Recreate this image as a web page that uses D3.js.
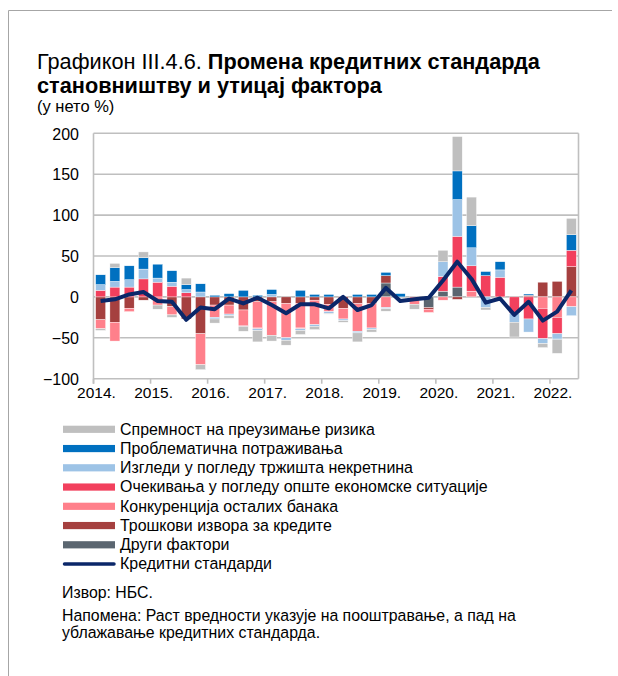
<!DOCTYPE html>
<html><head><meta charset="utf-8">
<script src="https://cdn.jsdelivr.net/npm/d3@7"></script>
<style>
body{margin:0;background:#fff;}
svg{display:block;font-family:"Liberation Sans",Arial,sans-serif;}
</style>
</head><body>
<svg id="c" width="618" height="676"></svg>
<script>
const categories = ["2014Q1","2014Q2","2014Q3","2014Q4","2015Q1","2015Q2","2015Q3","2015Q4",
"2016Q1","2016Q2","2016Q3","2016Q4","2017Q1","2017Q2","2017Q3","2017Q4",
"2018Q1","2018Q2","2018Q3","2018Q4","2019Q1","2019Q2","2019Q3","2019Q4",
"2020Q1","2020Q2","2020Q3","2020Q4","2021Q1","2021Q2","2021Q3","2021Q4",
"2022Q1","2022Q2"];
const yearLabels = ["2014.","2015.","2016.","2017.","2018.","2019.","2020.","2021.","2022."];
const yTicks = [-100,-50,0,50,100,150,200];

const spremnost     = [-2,5,0,7,-5,-3,8,-6,-5,-3,-6,-14,-7,-6,-5,-4,-1,-2,-11,-3,-3,0,-6,0,14,42,35,-3,0,-18,0,-5,-17,20];
const problematicna = [12,17,17,14,17,14,6,10,2,4,8,2,6,0,8,3,3,0,3,3,4,4,0,0,0,35,27,5,10,0,1.5,0,-1,19];
const izgledi       = [7,7,9,12,5,5,4,6,-2,-2,0,-2,3,-3,-2,-2,-2,-2,-2,-2,-1.5,0,0,0,18,45,22,-13,9,-11,-16,-6,-6,-11];
const ocekivanja    = [8,12,12,22,18,13,5,0,0,0,-1,-1,0,0,-1,0,0,0,0,0,0,0,0,0,18,62,31,26,24,-20,-27,-37,-20,20];
const konkurencija  = [-11,-23,-4,0,-10,-10,0,-38,-15,-11,-19,-32,-41,-42,-30,-30,-9,-13,-34,-30,-13,0,-9,-4,-4,0,7,0,0,0,0,-14,-25,-12];
const troskovi      = [-28,-31,-14,-4,0,-12,-27,-45,-10,-10,-16,-6,-6,-8,-8,-4,-9,-14,-8,-8,9,0,0,-2,0,-3,0,0,0,0,2,18,19,37];
const drugi         = [0,0,0,0,0,0,0,0,0,0,0,0,0,0,0,0,0,0,0,0,17,0,0,-13,7,12,0,0,0,0,0,0,0,0];
const standardi     = [-5,-3,3,6,-5,-6,-28,-13,-15,-2,-8,-1,-10,-20,-9,-9,-14,0,-16,-10,11,-5,-3,-1,20,43,22,-7,-2,-22,-6,-29,-18,8];

const seriesNames = ["Спремност на преузимање ризика","Проблематична потраживања","Изгледи у погледу тржишта некретнина","Очекивања у погледу опште економске ситуације","Конкуренција осталих банака","Трошкови извора за кредите","Други фактори"];
const seriesValues = [spremnost, problematicna, izgledi, ocekivanja, konkurencija, troskovi, drugi];
const seriesColors = ["#BFBFBF","#0070C0","#9DC3E6","#F2405D","#FF808B","#A5403F","#5B6670"];
const lineName = "Кредитни стандарди";
const lineColor = "#0B2769";

(function(){
const svg = d3.select("#c");

svg.append("line").attr("x1",8.5).attr("x2",8.5).attr("y1",10.5).attr("y2",676).attr("stroke","#A6A6A6").attr("stroke-width",1);
svg.append("line").attr("x1",8.5).attr("x2",612).attr("y1",10.5).attr("y2",10.5).attr("stroke","#A6A6A6").attr("stroke-width",1);

function fit(sel, target){
  const w = sel.node().getComputedTextLength();
  const fs = parseFloat(sel.attr("font-size"));
  const nf = fs*target/w;
  sel.attr("font-size", nf);
  return nf;
}

const t1 = svg.append("text").attr("x",37).attr("y",68.5).attr("font-size",18.5).attr("fill","#000");
t1.append("tspan").text("Графикон III.4.6. ");
t1.append("tspan").attr("font-weight","bold").text("Промена кредитних стандарда");
const tfs = fit(t1, 503);
svg.append("text").attr("x",37).attr("y",92.5).attr("font-size",tfs).attr("font-weight","bold").text("становништву и утицај фактора");
svg.append("text").attr("x",37).attr("y",111.5).attr("font-size",16.5).attr("fill","#000").text("(у нето %)");

const pL = 93.5, pR = 578.5, pT = 133.3, pB = 378.7;
const x = d3.scaleBand().domain(categories).range([pL,pR]).paddingInner(0.3).paddingOuter(0.15);
const y = d3.scaleLinear().domain([-100,200]).range([pB, pT]);

svg.append("g").selectAll("line").data(yTicks).join("line")
  .attr("x1",pL).attr("x2",pR).attr("y1",d=>y(d)).attr("y2",d=>y(d))
  .attr("stroke","#BFBFBF").attr("stroke-width",1.6);
svg.append("line").attr("x1",pL).attr("x2",pL).attr("y1",pT).attr("y2",pB+5).attr("stroke","#BFBFBF").attr("stroke-width",1.6);
svg.append("line").attr("x1",pR).attr("x2",pR).attr("y1",pT).attr("y2",pB).attr("stroke","#BFBFBF").attr("stroke-width",1.6);

const yAxis = d3.axisLeft(y).tickValues(yTicks).tickSize(0).tickPadding(0).tickFormat(d3.format("d"));
const gy = svg.append("g").attr("transform","translate(79,0)").call(yAxis);
gy.select(".domain").remove();
gy.selectAll("text").attr("font-size",16).attr("font-family","Liberation Sans, Arial, sans-serif").attr("fill","#000").attr("dy","0.36em");

const offs = (x.step()-x.bandwidth())/2;
const yearIdx = yearLabels.map((d,i)=>i*4);
svg.append("g").selectAll("line").data(yearIdx).join("line")
  .attr("x1",i=>x(categories[i])-offs).attr("x2",i=>x(categories[i])-offs)
  .attr("y1",pB).attr("y2",pB+5).attr("stroke","#BFBFBF").attr("stroke-width",1.6);
svg.append("g").selectAll("text").data(yearLabels).join("text")
  .attr("x",(d,i)=>x(categories[i*4])-offs+3).attr("y",398)
  .attr("text-anchor","middle").attr("font-size",15.5).attr("fill","#000").text(d=>d);

const stackOrder = [6,5,4,3,2,1,0];
const rows = categories.map((c,i)=>{const o={cat:c}; seriesNames.forEach((n,k)=>o[n]=seriesValues[k][i]); return o;});
const stack = d3.stack().keys(stackOrder.map(k=>seriesNames[k])).offset(d3.stackOffsetDiverging);
const stacked = stack(rows);
svg.append("g").selectAll("g").data(stacked).join("g")
  .attr("fill",d=>seriesColors[seriesNames.indexOf(d.key)])
  .selectAll("rect").data(d=>d.filter(s=>s[1]!==s[0])).join("rect")
  .attr("x",d=>x(d.data.cat)).attr("width",x.bandwidth())
  .attr("y",d=>y(Math.max(d[0],d[1]))).attr("height",d=>Math.abs(y(d[0])-y(d[1])))
  .attr("stroke","#fff").attr("stroke-width",0.4);

const line = d3.line().x((d,i)=>x(categories[i])+x.bandwidth()/2).y(d=>y(d));
svg.append("path").datum(standardi).attr("d",line).attr("fill","none")
  .attr("stroke",lineColor).attr("stroke-width",4).attr("stroke-linejoin","round");

const lg = svg.append("g");
const rowY = d3.range(8).map(i=>429.3+i*19.25);
seriesNames.forEach((n,k)=>{
  lg.append("rect").attr("x",63).attr("y",rowY[k]-3.6).attr("width",52).attr("height",7.2).attr("fill",seriesColors[k]);
});
lg.append("line").attr("x1",64.5).attr("x2",114).attr("y1",rowY[7]).attr("y2",rowY[7])
  .attr("stroke",lineColor).attr("stroke-width",3.5).attr("stroke-linecap","round");
const legTexts = seriesNames.concat([lineName]);
const lt = lg.selectAll("text").data(legTexts).join("text")
  .attr("x",120).attr("y",(d,i)=>rowY[i]+5.4).attr("font-size",15).attr("fill","#000").text(d=>d);
const lfs = fit(d3.select(lt.nodes()[0]), 255);
lt.attr("font-size",lfs);

const n1 = svg.append("text").attr("x",62).attr("y",598).attr("font-size",14).attr("fill","#000").text("Извор: НБС.");
const n2 = svg.append("text").attr("x",62).attr("y",620.5).attr("font-size",14).attr("fill","#000").text("Напомена: Раст вредности указује на пооштравање, а пад на");
const nfs = fit(n2, 454);
n1.attr("font-size",nfs);
svg.append("text").attr("x",62).attr("y",638).attr("font-size",nfs).attr("fill","#000").text("ублажавање кредитних стандарда.");
})();
</script>
</body></html>
